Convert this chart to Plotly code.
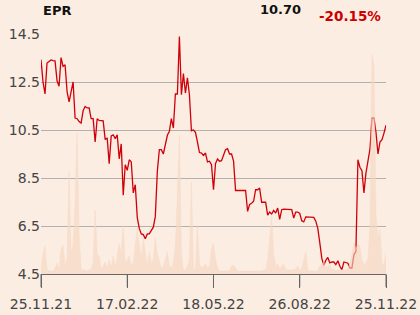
import plotly.graph_objects as go

price = [13.43, 12.5, 12.0, 13.29, 13.35, 13.42, 13.39, 13.38, 12.55, 12.32,
         13.52, 13.15, 13.22, 12.1, 11.67, 12.1, 12.5, 11.0, 10.97, 10.85,
         10.79, 11.3, 11.48, 11.42, 11.42, 10.97, 10.97, 10.0, 10.97, 10.9,
         10.88, 10.88, 10.1, 10.17, 9.1, 10.25, 10.3, 10.14, 10.3, 9.3,
         9.92, 7.78, 9.05, 8.82, 9.26, 9.17, 7.88, 8.22, 6.85, 6.4,
         6.17, 6.14, 5.97, 6.17, 6.17, 6.3, 6.45, 6.9, 8.78, 9.68,
         9.68, 9.5, 9.95, 10.28, 10.45, 10.97, 10.58, 12.0, 12.0, 14.4,
         11.97, 12.85, 12.04, 12.67, 11.97, 10.47, 10.5, 10.4, 10.0, 9.56,
         9.54, 9.44, 9.54, 9.17, 9.2, 9.05, 8.01, 9.1, 9.29, 9.2,
         9.22, 9.45, 9.68, 9.72, 9.5, 9.5, 9.2, 7.98, 7.98, 7.98,
         7.98, 7.98, 7.98, 7.11, 7.4, 7.45, 7.53, 8.01, 8.01, 8.08,
         7.49, 7.49, 7.49, 6.95, 7.08, 7.0, 7.15, 7.04, 7.25, 6.78,
         7.18, 7.2, 7.2, 7.2, 7.2, 7.18, 6.83, 7.08, 7.08, 7.02,
         6.72, 6.67, 6.88, 6.88, 6.88, 6.88, 6.86, 6.7, 6.4, 5.8,
         5.15, 4.86, 5.07, 5.19, 4.96, 5.0, 5.0, 4.89, 5.05, 4.82,
         4.68, 5.0, 4.96, 4.95, 4.75, 4.75, 5.3, 5.44, 9.26, 8.95,
         8.8, 7.88, 8.7, 9.22, 9.7, 11.0, 11.0, 10.4, 9.5, 10.0,
         10.1, 10.37, 10.70]

volume = [4, 20, 28, 5, 3, 3, 3, 6, 11, 4,
          25, 29, 8, 15, 103, 20, 30, 71, 141, 40,
          5, 4, 4, 3, 4, 4, 12, 64, 20, 18,
          5, 8, 12, 6, 14, 6, 18, 6, 19, 30,
          20, 49, 12, 14, 18, 8, 12, 32, 46, 30,
          15, 36, 20, 8, 22, 10, 15, 36, 20, 12,
          6, 8, 15, 22, 8, 6, 12, 29, 80, 139,
          20, 4, 4, 8, 15, 92, 4, 4, 49, 10,
          6, 8, 10, 6, 8, 25, 31, 15, 6, 3,
          3, 3, 3, 3, 3, 8, 9, 6, 3, 3,
          3, 3, 3, 3, 3, 3, 3, 3, 3, 3,
          3, 4, 4, 14, 36, 57, 20, 8, 10, 5,
          8, 10, 5, 4, 4, 4, 4, 5, 8, 4,
          5, 14, 22, 4, 3, 3, 3, 3, 3, 8,
          9, 12, 6, 8, 9, 4, 5, 3, 4, 4,
          4, 4, 4, 6, 10, 19, 31, 25, 30, 28,
          14, 8, 12, 15, 49, 219, 209, 60, 35, 45,
          10, 10, 22]

tick_labels = ["25.11.21", "17.02.22", "18.05.22", "26.08.22", "25.11.22"]
y_ticks = [4.5, 6.5, 8.5, 10.5, 12.5, 14.5]

title = "EPR"
last_value = "10.70"
change = "-20.15%"

n = len(price)
idx = list(range(n))
tick_pos = [round(k * (n - 1) / 4) for k in range(5)]

BG = "#FBEDE2"
FONT = "DejaVu Sans"
L, R, T, B = 41, 34, 34, 41
TICK_LEN = 13
AXIS_COLOR = "#666666"

fig = go.Figure()
fig.add_trace(go.Scatter(
    x=idx, y=volume, yaxis="y2", mode="lines",
    line=dict(width=0.5, color="rgba(247,216,194,0.8)"),
    fill="tozeroy", fillcolor="rgba(247,214,192,0.6)",
    hoverinfo="skip", showlegend=False,
))
fig.add_trace(go.Scatter(
    x=idx, y=price, mode="lines",
    line=dict(color="#D0000A", width=1.3),
    showlegend=False,
))

fig.update_layout(
    width=420, height=315,
    margin=dict(l=L, r=R, t=T, b=B, autoexpand=False),
    paper_bgcolor=BG, plot_bgcolor=BG,
    font=dict(family=FONT, size=14, color="#444444"),
    xaxis=dict(
        range=[0, n - 1], tickmode="array", tickvals=tick_pos, ticktext=tick_labels,
        showgrid=False, zeroline=False, automargin=False,
        showline=True, linecolor=AXIS_COLOR, linewidth=1,
        ticks="outside", ticklen=TICK_LEN, tickcolor=AXIS_COLOR, tickwidth=1,
        ticklabelstandoff=4,
        tickfont=dict(size=14, color="#444444"),
    ),
    yaxis=dict(
        range=[4.5, 14.5], tickvals=y_ticks,
        ticktext=[f"{v:.1f}" for v in y_ticks],
        showgrid=True, gridcolor="#B5B0AC", gridwidth=1,
        zeroline=False, showline=False, ticks="", automargin=False,
        tickfont=dict(size=14, color="#444444"),
    ),
    yaxis2=dict(
        range=[0, 240], overlaying="y", side="right",
        showgrid=False, showticklabels=False, ticks="", showline=False,
        zeroline=False,
    ),
)

pw, ph = 420 - L - R, 315 - T - B

# explicit tick marks below the x axis at the tick positions
for tp in tick_pos:
    xp = tp / (n - 1)
    fig.add_shape(type="line", xref="paper", yref="paper",
                  x0=xp, x1=xp, y0=0, y1=-TICK_LEN / ph,
                  line=dict(color=AXIS_COLOR, width=1))


def px_to_paper(x, y):
    return (x - L) / pw, ((315 - y) - B) / ph


for text, px, py, anchor, size, color in [
    (f"<b>{title}</b>", 41, 10.5, "left", 13, "#111111"),
    (f"<b>{last_value}</b>", 303, 9.5, "right", 13, "#111111"),
    (f"<b>{change}</b>", 383, 16, "right", 13.5, "#CC0000"),
]:
    ax, ay = px_to_paper(px, py)
    fig.add_annotation(text=text, x=ax, y=ay, xref="paper", yref="paper",
                       showarrow=False, xanchor=anchor, yanchor="middle",
                       font=dict(size=size, color=color, family=FONT))

fig.write_html("out.html")
